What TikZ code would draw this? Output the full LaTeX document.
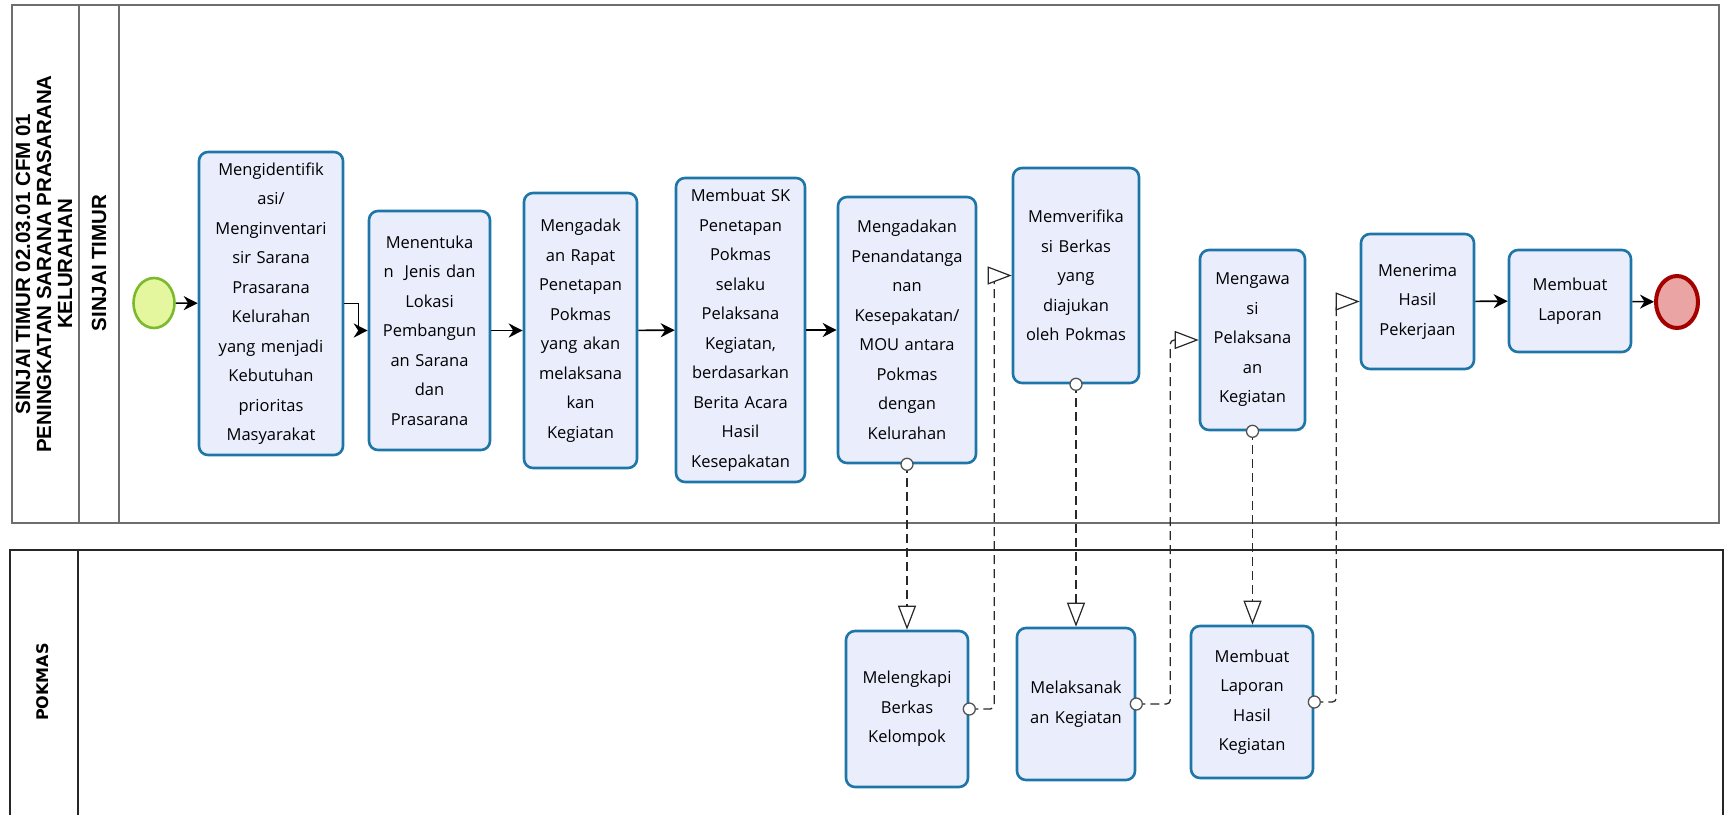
\documentclass[tikz,border=0pt]{standalone}
\usepackage{fontspec}
\setmainfont{Open Sans}
\newfontfamily\lanefont{Liberation Sans}
\newfontfamily\widefont{DejaVu Sans}
\usetikzlibrary{arrows.meta,shapes.geometric}
\definecolor{taskfill}{RGB}{233,237,252}
\definecolor{taskline}{RGB}{30,118,168}
\definecolor{startfill}{RGB}{228,246,158}
\definecolor{startline}{RGB}{122,186,44}
\definecolor{endfill}{RGB}{234,164,164}
\definecolor{endline}{RGB}{164,0,0}
\definecolor{poolline}{RGB}{110,110,110}
\definecolor{msgline}{RGB}{40,40,40}
\begin{document}
\begin{tikzpicture}[x=1pt,y=-1pt,
  task/.style={draw=taskline, fill=taskfill, line width=2.6pt, rounded corners=9pt,
    inner sep=0pt, align=center, font=\fontsize{16.5}{29.5}\selectfont},
  seqflow/.style={draw=black, line width=1.6pt, -{Stealth[length=14pt,width=14pt,inset=4.5pt]}},
  msgflow/.style={draw=msgline, line width=1.3pt, dash pattern=on 9pt off 5pt, rounded corners=4pt,
    -{Triangle[length=24pt,width=18pt,fill=white,line width=1.2pt]}},
  msgdot/.style={draw=msgline!80, fill=white, line width=1.3pt},
  lanelabel/.style={rotate=90, align=center, font=\lanefont\bfseries\fontsize{20.5}{21}\selectfont},
  poolborder/.style={draw=poolline, line width=1.4pt}
]
\clip (0,0) rectangle (1727,814);
% pools
\draw[poolborder] (12,5) rectangle (1719,523);
\draw[poolborder] (79,5) -- (79,523);
\draw[poolborder] (119,5) -- (119,523);
\draw[draw=black!85, line width=1.4pt] (10,830) -- (10,550) -- (1723,550) -- (1723,830);
\draw[draw=black!85, line width=1.4pt] (78,550) -- (78,830);
% labels
\node[lanelabel] (title) at (44,264) {SINJAI TIMUR 02.03.01 CFM 01\\PENINGKATAN SARANA PRASARANA\\KELURAHAN};
\node[lanelabel] (lane1) at (99,263) {SINJAI TIMUR};
\node[lanelabel, font=\widefont\bfseries\fontsize{16}{18}\selectfont] (lane2) at (43,682) {POKMAS};
% events
\node[ellipse, draw=startline, fill=startfill, line width=2.6pt, minimum width=41pt, minimum height=50pt, inner sep=0pt] (start) at (154,303) {};
\node[ellipse, draw=endline, fill=endfill, line width=4pt, minimum width=42pt, minimum height=52pt, inner sep=0pt] (end) at (1677,302) {};
% tasks top lane
\node[task, minimum width=144pt, minimum height=303pt, text width=140pt] (b1) at (271,303.5) {Mengidentifik\\asi/\\Menginventari\\sir Sarana\\Prasarana\\Kelurahan\\yang menjadi\\Kebutuhan\\prioritas\\Masyarakat};
\node[task, minimum width=121pt, minimum height=239pt, text width=117pt] (b2) at (429.5,330.5) {Menentuka\\n\ \ Jenis dan\\Lokasi\\Pembangun\\an Sarana\\dan\\Prasarana};
\node[task, minimum width=113pt, minimum height=275pt, text width=109pt] (b3) at (580.5,330.5) {Mengadak\\an Rapat\\Penetapan\\Pokmas\\yang akan\\melaksana\\kan\\Kegiatan};
\node[task, minimum width=129pt, minimum height=304pt, text width=125pt] (b4) at (740.5,330) {Membuat SK\\Penetapan\\Pokmas\\selaku\\Pelaksana\\Kegiatan,\\berdasarkan\\Berita Acara\\Hasil\\Kesepakatan};
\node[task, minimum width=138pt, minimum height=266pt, text width=134pt] (b5) at (907,330) {Mengadakan\\Penandatanga\\nan\\Kesepakatan/\\MOU antara\\Pokmas\\dengan\\Kelurahan};
\node[task, minimum width=126pt, minimum height=215pt, text width=122pt] (b6) at (1076,275.5) {Memverifika\\si Berkas\\yang\\diajukan\\oleh Pokmas};
\node[task, minimum width=105pt, minimum height=180pt, text width=101pt] (b7) at (1252.5,340) {Mengawa\\si\\Pelaksana\\an\\Kegiatan};
\node[task, minimum width=113pt, minimum height=135pt, text width=109pt] (b8) at (1417.5,301.5) {Menerima\\Hasil\\Pekerjaan};
\node[task, minimum width=122pt, minimum height=102pt, text width=118pt] (b9) at (1570,301) {Membuat\\Laporan};
% tasks bottom lane
\node[task, minimum width=122pt, minimum height=156pt, text width=118pt] (b10) at (907,709) {Melengkapi\\Berkas\\Kelompok};
\node[task, minimum width=118pt, minimum height=152pt, text width=114pt] (b11) at (1076,704) {Melaksanak\\an Kegiatan};
\node[task, minimum width=122pt, minimum height=152pt, text width=118pt] (b12) at (1252,702) {Membuat\\Laporan\\Hasil\\Kegiatan};
% sequence flows
\draw[seqflow] (start) -- (b1);
\draw[seqflow] (b1.east) -- ++(14,0) |- (b2.west);
\draw[seqflow] (b2) -- (b3);
\draw[seqflow] (b3) -- (b4);
\draw[seqflow] (b4) -- (b5);
\draw[seqflow] (b8) -- (b9);
\draw[seqflow] (b9) -- (end);
% message flows
\draw[msgflow] (b5.south) -- (b5.south |- b10.north);
\draw[msgflow] (b10.east) -- ++(25,0) |- (b6.west);
\draw[msgflow] (b6.south) -- (b6.south |- b11.north);
\draw[msgflow] (b11.east) -- ++(34,0) |- (b7.west);
\draw[msgflow] (b7.south) -- (b7.south |- b12.north);
\draw[msgflow] (b12.east) -- ++(22,0) |- (b8.west);
\draw[msgdot] (b5.south) circle[radius=6pt];
\draw[msgdot] (b6.south) circle[radius=6pt];
\draw[msgdot] (b7.south) circle[radius=6pt];
\draw[msgdot] (b10.east) circle[radius=6pt];
\draw[msgdot] (b11.east) circle[radius=6pt];
\draw[msgdot] (b12.east) circle[radius=6pt];
\end{tikzpicture}
\end{document}
